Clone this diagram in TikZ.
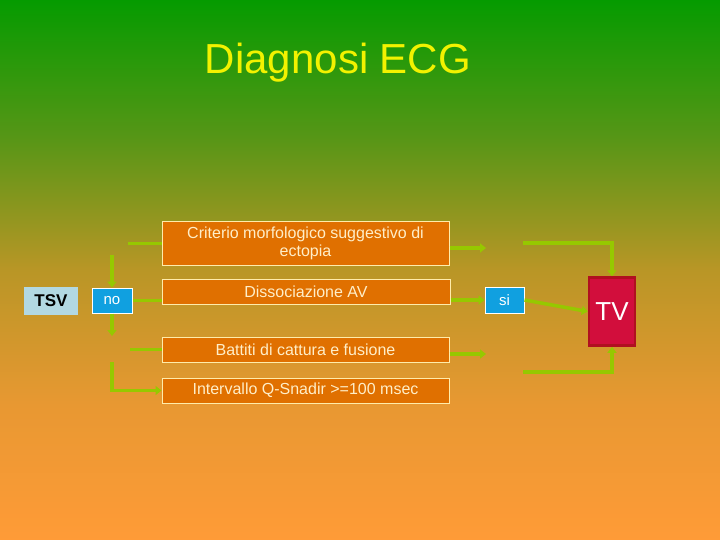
\documentclass[tikz,border=0pt]{standalone}
\usepackage{fontspec}
\setmainfont{Liberation Sans}
\usetikzlibrary{arrows.meta}
\definecolor{bgA}{RGB}{5,155,0}
\definecolor{bgB}{RGB}{85,150,22}
\definecolor{bgC}{RGB}{185,150,38}
\definecolor{bgD}{RGB}{232,152,50}
\definecolor{bgE}{RGB}{255,155,55}
\definecolor{boxor}{RGB}{224,112,0}
\definecolor{boxedge}{RGB}{255,236,170}
\definecolor{boxtxt}{RGB}{255,238,200}
\definecolor{blu}{RGB}{16,160,224}
\definecolor{tsvfill}{RGB}{178,216,226}
\definecolor{gr}{RGB}{150,200,0}
\definecolor{tvfill}{RGB}{210,14,60}
\definecolor{tvedge}{RGB}{176,16,32}
\definecolor{titlecol}{RGB}{242,242,0}
\pgfdeclareverticalshading{bgshade}{100bp}{color(0bp)=(bgE); color(25bp)=(bgE); color(37.5bp)=(bgD); color(50bp)=(bgC); color(62.5bp)=(bgB); color(75bp)=(bgA); color(100bp)=(bgA)}
\tikzset{
  obox/.style={draw=boxedge, line width=1pt, fill=boxor, text=boxtxt, align=center, inner sep=0pt, font=\fontsize{16}{18}\selectfont},
  bbox/.style={draw=white, line width=1pt, fill=blu, text=white, inner sep=0pt, font=\fontsize{15}{17}\selectfont},
  gl/.style={draw=gr, line width=3.5pt},
  garr/.style={draw=gr, line width=3.5pt, -{Triangle[length=6pt,width=9pt]}},
}
\begin{document}
\begin{tikzpicture}[x=1pt,y=-1pt]
\shade[shading=bgshade] (0,0) rectangle (720,540);
\useasboundingbox (0,0) rectangle (720,540);
\node[text=titlecol, font=\fontsize{42}{50}\selectfont] (title) at (338,63) {Diagnosi ECG};
\node[obox, minimum width=287pt, minimum height=43pt] (c1) at (305.5,243.5) {Criterio morfologico suggestivo di\\ectopia};
\node[obox, minimum width=288pt, minimum height=25pt] (c2) at (306,291.5) {Dissociazione AV};
\node[obox, minimum width=287pt, minimum height=25pt] (c3) at (305.5,349.5) {Battiti di cattura e fusione};
\node[obox, minimum width=287pt, minimum height=25pt] (c4) at (305.5,390.5) {Intervallo Q-Snadir >=100 msec};
\node[fill=tsvfill, minimum width=54pt, minimum height=28pt, inner sep=0pt, font=\fontsize{17}{20}\selectfont\bfseries] (tsv) at (51,301) {TSV};
\node[bbox, minimum width=40pt, minimum height=25pt] (no) at (112,300.5) {no};
\node[bbox, minimum width=39pt, minimum height=26pt] (si) at (504.5,300) {si};
\node[draw=tvedge, line width=2.5pt, fill=tvfill, text=white, minimum width=46pt, minimum height=68pt, inner sep=0pt, font=\fontsize{26}{30}\selectfont] (tv) at (612,311.5) {TV};
% left connectors
\coordinate (l1) at (128,243.5);
\draw[gl] (c1.west) -- (l1);
\coordinate (n1) at (112,255);
\draw[garr] (n1) -- (no.north);
\draw[gl] (no.east) -- (no.east -| c2.west);
\coordinate (n2) at (112,336);
\draw[garr] (no.south) -- (n2);
\coordinate (l3) at (130,349.5);
\draw[gl] (c3.west) -- (l3);
\coordinate (l4) at (112,362);
\draw[garr] (l4) |- (c4.west);
% right connectors
\coordinate (r1) at (486,248);
\draw[garr] (c1.east |- r1) -- (r1);
\coordinate (r1b) at (523,243);
\draw[garr] (r1b) -| (tv.north);
\draw[garr] (c2.east |- si.west) -- (si.west);
\draw[garr] (si.east) -- (tv.west);
\coordinate (r3) at (486,354);
\draw[garr] (c3.east |- r3) -- (r3);
\coordinate (r3b) at (523,372);
\draw[garr] (r3b) -| (tv.south);
\end{tikzpicture}
\end{document}
